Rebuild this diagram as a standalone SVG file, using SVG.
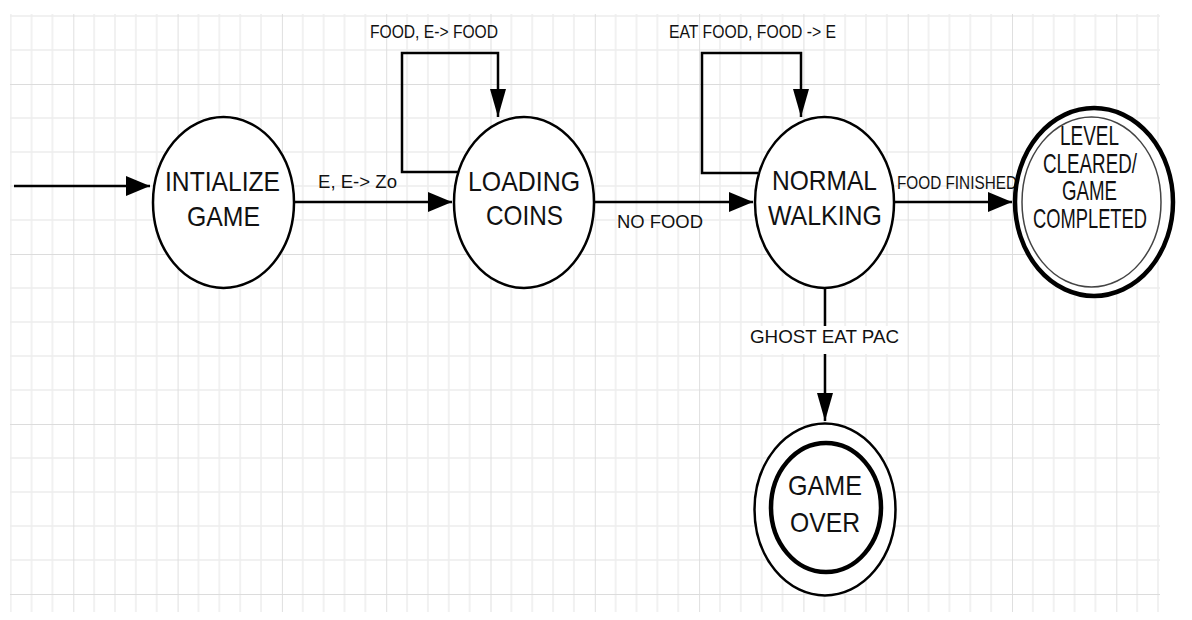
<svg xmlns="http://www.w3.org/2000/svg" width="1192" height="620" viewBox="0 0 1192 620">
<style>
.st{fill:#fff;stroke:#000;stroke-width:2.5}
.nt{font-family:"Liberation Sans",Arial,sans-serif;font-size:28px;fill:#111;text-anchor:middle}
.lt{font-family:"Liberation Sans",Arial,sans-serif;font-size:18px;fill:#111}
.cn{fill:none;stroke:#000;stroke-width:2.5}
</style>
<defs>
<pattern id="grid" patternUnits="userSpaceOnUse" x="-31" y="-86" width="104.3" height="170">
<path d="M20.86,0V170M41.72,0V170M62.58,0V170M83.44,0V170M0,34H104.3M0,68H104.3M0,102H104.3M0,136H104.3" stroke="#ededed" stroke-width="1.5" fill="none"/>
<path d="M0,0V170M0,0H104.3" stroke="#dcdcdc" stroke-width="1.8" fill="none"/>
</pattern>
<marker id="ah" markerUnits="userSpaceOnUse" markerWidth="26" markerHeight="20" refX="24" refY="10" orient="auto"><path d="M0,0L24,10L0,20z" fill="#000"/></marker>
<marker id="av" markerUnits="userSpaceOnUse" markerWidth="30" markerHeight="18" refX="28" refY="8" orient="auto"><path d="M0,0L28,8L0,16z" fill="#000"/></marker>
</defs>
<rect width="1192" height="620" fill="#fff"/>
<rect x="10" y="14" width="1150" height="598" fill="url(#grid)"/>
<g id="connectors">
<path class="cn" d="M14,186H150" marker-end="url(#ah)"/>
<path class="cn" d="M294,202H452" marker-end="url(#ah)"/>
<path class="cn" d="M458,172H402V53H498V117" marker-end="url(#av)"/>
<path class="cn" d="M594,202H753" marker-end="url(#ah)"/>
<path class="cn" d="M758,173H702V53H801V117" marker-end="url(#av)"/>
<path class="cn" d="M894,202H1012" marker-end="url(#ah)"/>
<path class="cn" d="M825,288V421" marker-end="url(#av)"/>
<text class="lt" x="318" y="188" textLength="79" lengthAdjust="spacingAndGlyphs">E, E-&gt; Zo</text>
<text class="lt" x="370" y="38" font-size="16" textLength="128" lengthAdjust="spacingAndGlyphs">FOOD, E-&gt; FOOD</text>
<text class="lt" x="617" y="228" textLength="86" lengthAdjust="spacingAndGlyphs">NO FOOD</text>
<text class="lt" x="669" y="38" font-size="16" textLength="167" lengthAdjust="spacingAndGlyphs">EAT FOOD, FOOD -&gt; E</text>
<text class="lt" x="897" y="189" font-size="17" textLength="120" lengthAdjust="spacingAndGlyphs">FOOD FINISHED</text>
<rect x="748" y="326" width="154" height="28" fill="#fff"/>
<text class="lt" x="750" y="343" textLength="149" lengthAdjust="spacingAndGlyphs">GHOST EAT PAC</text>
</g>
<g id="init">
<ellipse class="st" cx="223.5" cy="202.5" rx="70.5" ry="85.5"/>
<text class="nt" x="222.5" y="190.5" textLength="115" lengthAdjust="spacingAndGlyphs">INTIALIZE</text>
<text class="nt" x="223.5" y="226" textLength="73" lengthAdjust="spacingAndGlyphs">GAME</text>
</g>
<g id="loading">
<ellipse class="st" cx="524" cy="202.5" rx="70" ry="85.5"/>
<text class="nt" x="524" y="190.5" textLength="112" lengthAdjust="spacingAndGlyphs">LOADING</text>
<text class="nt" x="524.5" y="225" textLength="77" lengthAdjust="spacingAndGlyphs">COINS</text>
</g>
<g id="normal">
<ellipse class="st" cx="824.5" cy="202.5" rx="69.5" ry="85.5"/>
<text class="nt" x="824.5" y="190" textLength="105" lengthAdjust="spacingAndGlyphs">NORMAL</text>
<text class="nt" x="825" y="225" textLength="114" lengthAdjust="spacingAndGlyphs">WALKING</text>
</g>
<g id="level">
<ellipse cx="1094" cy="202" rx="79" ry="94" fill="#fff" stroke="#000" stroke-width="4.5"/>
<ellipse cx="1091.5" cy="202" rx="69.5" ry="85" fill="none" stroke="#444" stroke-width="1.5"/>
<text class="nt" x="1089.5" y="145" font-size="20" textLength="59" lengthAdjust="spacingAndGlyphs">LEVEL</text>
<text class="nt" x="1090" y="173" font-size="20" textLength="94" lengthAdjust="spacingAndGlyphs">CLEARED/</text>
<text class="nt" x="1089.5" y="200" font-size="20" textLength="55" lengthAdjust="spacingAndGlyphs">GAME</text>
<text class="nt" x="1090" y="228" font-size="20" textLength="114" lengthAdjust="spacingAndGlyphs">COMPLETED</text>
</g>
<g id="gameover">
<ellipse cx="825" cy="509.5" rx="70.5" ry="86" fill="#fff" stroke="#000" stroke-width="2.5"/>
<ellipse cx="826" cy="507.5" rx="55" ry="64.5" fill="none" stroke="#000" stroke-width="4.5"/>
<text class="nt" x="825" y="495" font-size="26" textLength="74" lengthAdjust="spacingAndGlyphs">GAME</text>
<text class="nt" x="825" y="532" font-size="26" textLength="70" lengthAdjust="spacingAndGlyphs">OVER</text>
</g>
</svg>
